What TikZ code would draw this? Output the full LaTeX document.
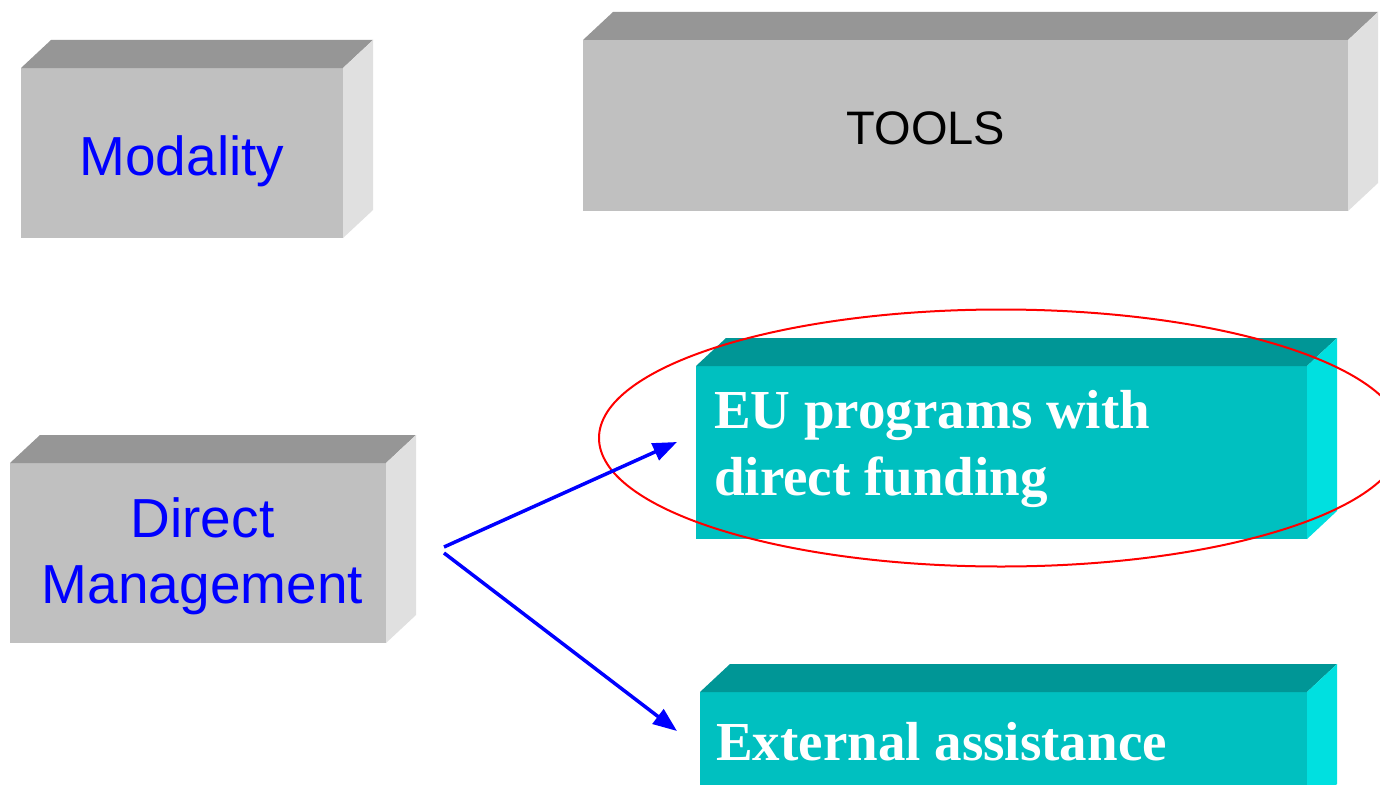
\documentclass[tikz,border=0pt]{standalone}
\usepackage{fontspec}
\setmainfont{Liberation Sans}
\newfontfamily\timesfont{Liberation Serif}
\usetikzlibrary{arrows.meta,calc}
\definecolor{gfront}{HTML}{C0C0C0}
\definecolor{gtop}{HTML}{969696}
\definecolor{gside}{HTML}{E0E0E0}
\definecolor{tfront}{HTML}{00C0C0}
\definecolor{ttop}{HTML}{009696}
\definecolor{tside}{HTML}{00E0E0}
\begin{document}
\begin{tikzpicture}[x=1pt,y=-1pt,
  front/.style={draw=none, inner sep=0pt, outer sep=0pt},
  graybox/.style={front, fill=gfront},
  tealbox/.style={front, fill=tfront},
  bluetext/.style={text=blue, inner sep=0pt, font=\fontsize{55}{66}\selectfont},
  blacktext/.style={text=black, inner sep=0pt, font=\fontsize{47}{56}\selectfont},
  whitetext/.style={text=white, inner sep=0pt, font=\timesfont\bfseries\fontsize{55}{67}\selectfont},
  conn/.style={draw=blue, line width=3.5pt, -{Triangle[length=24pt,width=18pt]}},
  ring/.style={draw=red, line width=2pt}
]
\useasboundingbox (0,0) rectangle (1380,784);
\fill[white] (0,0) rectangle (1380,784);
\clip (0,0) rectangle (1380,784);

% 3D box helper: top and side faces
\newcommand\boxfaces[3]{%
  \fill[#2] (#1.north west) -- ++(30,-28) -- ($(#1.north east)+(30,-28)$) -- (#1.north east) -- cycle;
  \fill[#3] (#1.north east) -- ++(30,-28) -- ($(#1.south east)+(30,-28)$) -- (#1.south east) -- cycle;
}

% Modality
\node[graybox, minimum width=322pt, minimum height=170pt] (mod) at (182,153) {};
\boxfaces{mod}{gtop}{gside}
\node[bluetext, anchor=base] (modt) at (182,175) {Modality};

% TOOLS
\node[graybox, minimum width=765pt, minimum height=171pt] (tools) at (965.5,125.5) {};
\boxfaces{tools}{gtop}{gside}
\node[blacktext, anchor=base] (toolst) at (926,144) {TOOLS};

% Direct Management
\node[graybox, minimum width=376pt, minimum height=180pt] (dm) at (198,553) {};
\boxfaces{dm}{gtop}{gside}
\node[bluetext, anchor=base] (dmt1) at (202.5,537) {Direct};
\node[bluetext, anchor=base] (dmt2) at (202.5,603) {Management};

% EU programs
\node[tealbox, minimum width=611pt, minimum height=173pt] (eu) at (1001.5,452.5) {};
\boxfaces{eu}{ttop}{tside}
\node[whitetext, anchor=base west] (eut1) at (714,428) {EU programs with};
\node[whitetext, anchor=base west] (eut2) at (714,495) {direct funding};

% External assistance
\node[tealbox, minimum width=607pt, minimum height=120pt] (ext) at (1003.5,752) {};
\boxfaces{ext}{ttop}{tside}
\node[whitetext, anchor=base west] (extt) at (716,760) {External assistance};

% red ellipse
\draw[ring] (1001,438) ellipse [x radius=402, y radius=128.5];

% arrows
\coordinate (fork1) at (444,547);
\coordinate (fork2) at (444,553);
\coordinate (tip1) at (677,442);
\coordinate (tip2) at (677,731);
\draw[conn] (fork1) -- (tip1);
\draw[conn] (fork2) -- (tip2);
\end{tikzpicture}
\end{document}
